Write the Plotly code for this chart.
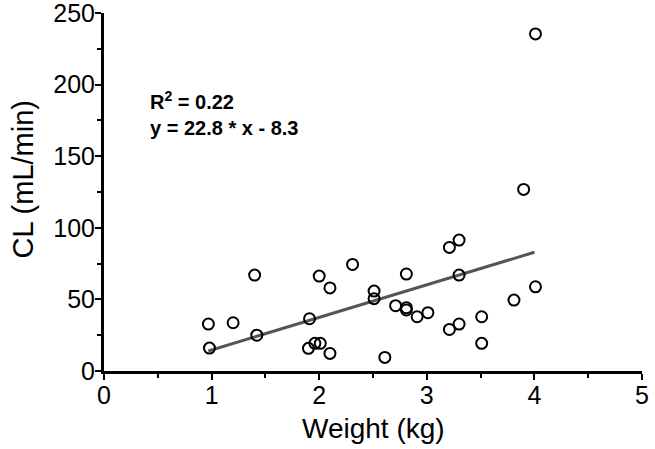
import plotly.graph_objects as go

# Data
weight = [0.97, 0.98, 1.20, 1.40, 1.42, 1.90, 1.91, 1.96, 2.01, 2.00, 2.10, 2.10,
          2.31, 2.51, 2.51, 2.61, 2.71, 2.81, 2.81, 2.81, 2.91, 3.01, 3.21, 3.30,
          3.30, 3.21, 3.30, 3.51, 3.51, 3.81, 4.01, 3.90, 4.01]
cl = [32.8, 16.0, 33.7, 67.0, 25.0, 15.8, 36.5, 19.3, 19.3, 66.3, 58.0, 12.3,
      74.4, 55.8, 50.5, 9.5, 45.6, 67.7, 44.2, 42.6, 37.9, 40.7, 86.3, 91.4,
      67.0, 29.0, 32.8, 37.9, 19.3, 49.5, 58.8, 126.8, 235.4]

fit_x = [0.97, 4.0]
fit_y = [14.0, 82.9]

x_ticks = [0, 1, 2, 3, 4, 5]
y_ticks = [0, 50, 100, 150, 200, 250]

annotation_text = "<b>R<sup>2</sup> = 0.22<br>y = 22.8 * x - 8.3</b>"
x_title = "Weight (kg)"
y_title = "CL (mL/min)"

FONT = "Liberation Sans, Arial, Helvetica, sans-serif"

fig = go.Figure()
fig.add_trace(go.Scatter(
    x=fit_x, y=fit_y, mode="lines",
    line=dict(color="#555555", width=3),
    showlegend=False, hoverinfo="skip",
))
fig.add_trace(go.Scatter(
    x=weight, y=cl, mode="markers",
    marker=dict(symbol="circle-open", size=11, color="black",
                line=dict(color="black", width=2)),
    showlegend=False,
))

fig.add_annotation(
    x=0.41, y=180, xref="x", yref="y",
    text=annotation_text, showarrow=False,
    xanchor="left", yanchor="middle", align="left",
    font=dict(family=FONT, size=20, color="black"),
)
# axis titles
fig.add_annotation(
    x=0.5, y=0, xref="paper", yref="paper", yshift=-57,
    text=x_title, showarrow=False, xanchor="center", yanchor="middle",
    font=dict(family=FONT, size=28, color="black"),
)
fig.add_annotation(
    x=0, y=0.535, xref="paper", yref="paper", xshift=-81,
    text=y_title, showarrow=False, textangle=-90,
    xanchor="center", yanchor="middle",
    font=dict(family=FONT, size=29, color="black"),
)

axis_common = dict(
    showgrid=False, zeroline=False,
    showline=True, linecolor="black", linewidth=3,
    ticks="outside", ticklen=6, tickwidth=2, tickcolor="black",
    tickfont=dict(family=FONT, size=25, color="black"),
    ticklabeloverflow="allow",
)

fig.update_xaxes(
    range=[0, 5], tickvals=x_ticks, ticktext=[str(v) for v in x_ticks],
    minor=dict(dtick=0.5, ticks="outside", ticklen=4, tickwidth=2, tickcolor="black", showgrid=False),
    ticklabelstandoff=-6,
    **axis_common,
)
fig.update_yaxes(
    range=[0, 250], tickvals=y_ticks, ticktext=[str(v) for v in y_ticks],
    minor=dict(dtick=25, ticks="outside", ticklen=4, tickwidth=2, tickcolor="black", showgrid=False),
    ticklabelstandoff=-5,
    **axis_common,
)

fig.update_layout(
    width=655, height=449,
    margin=dict(l=104, r=13, t=13, b=78, autoexpand=False),
    paper_bgcolor="white", plot_bgcolor="white",
    font=dict(family=FONT, color="black"),
)

fig.write_html("out.html", config={"displayModeBar": False},
               post_script="document.body.style.margin='0';")
